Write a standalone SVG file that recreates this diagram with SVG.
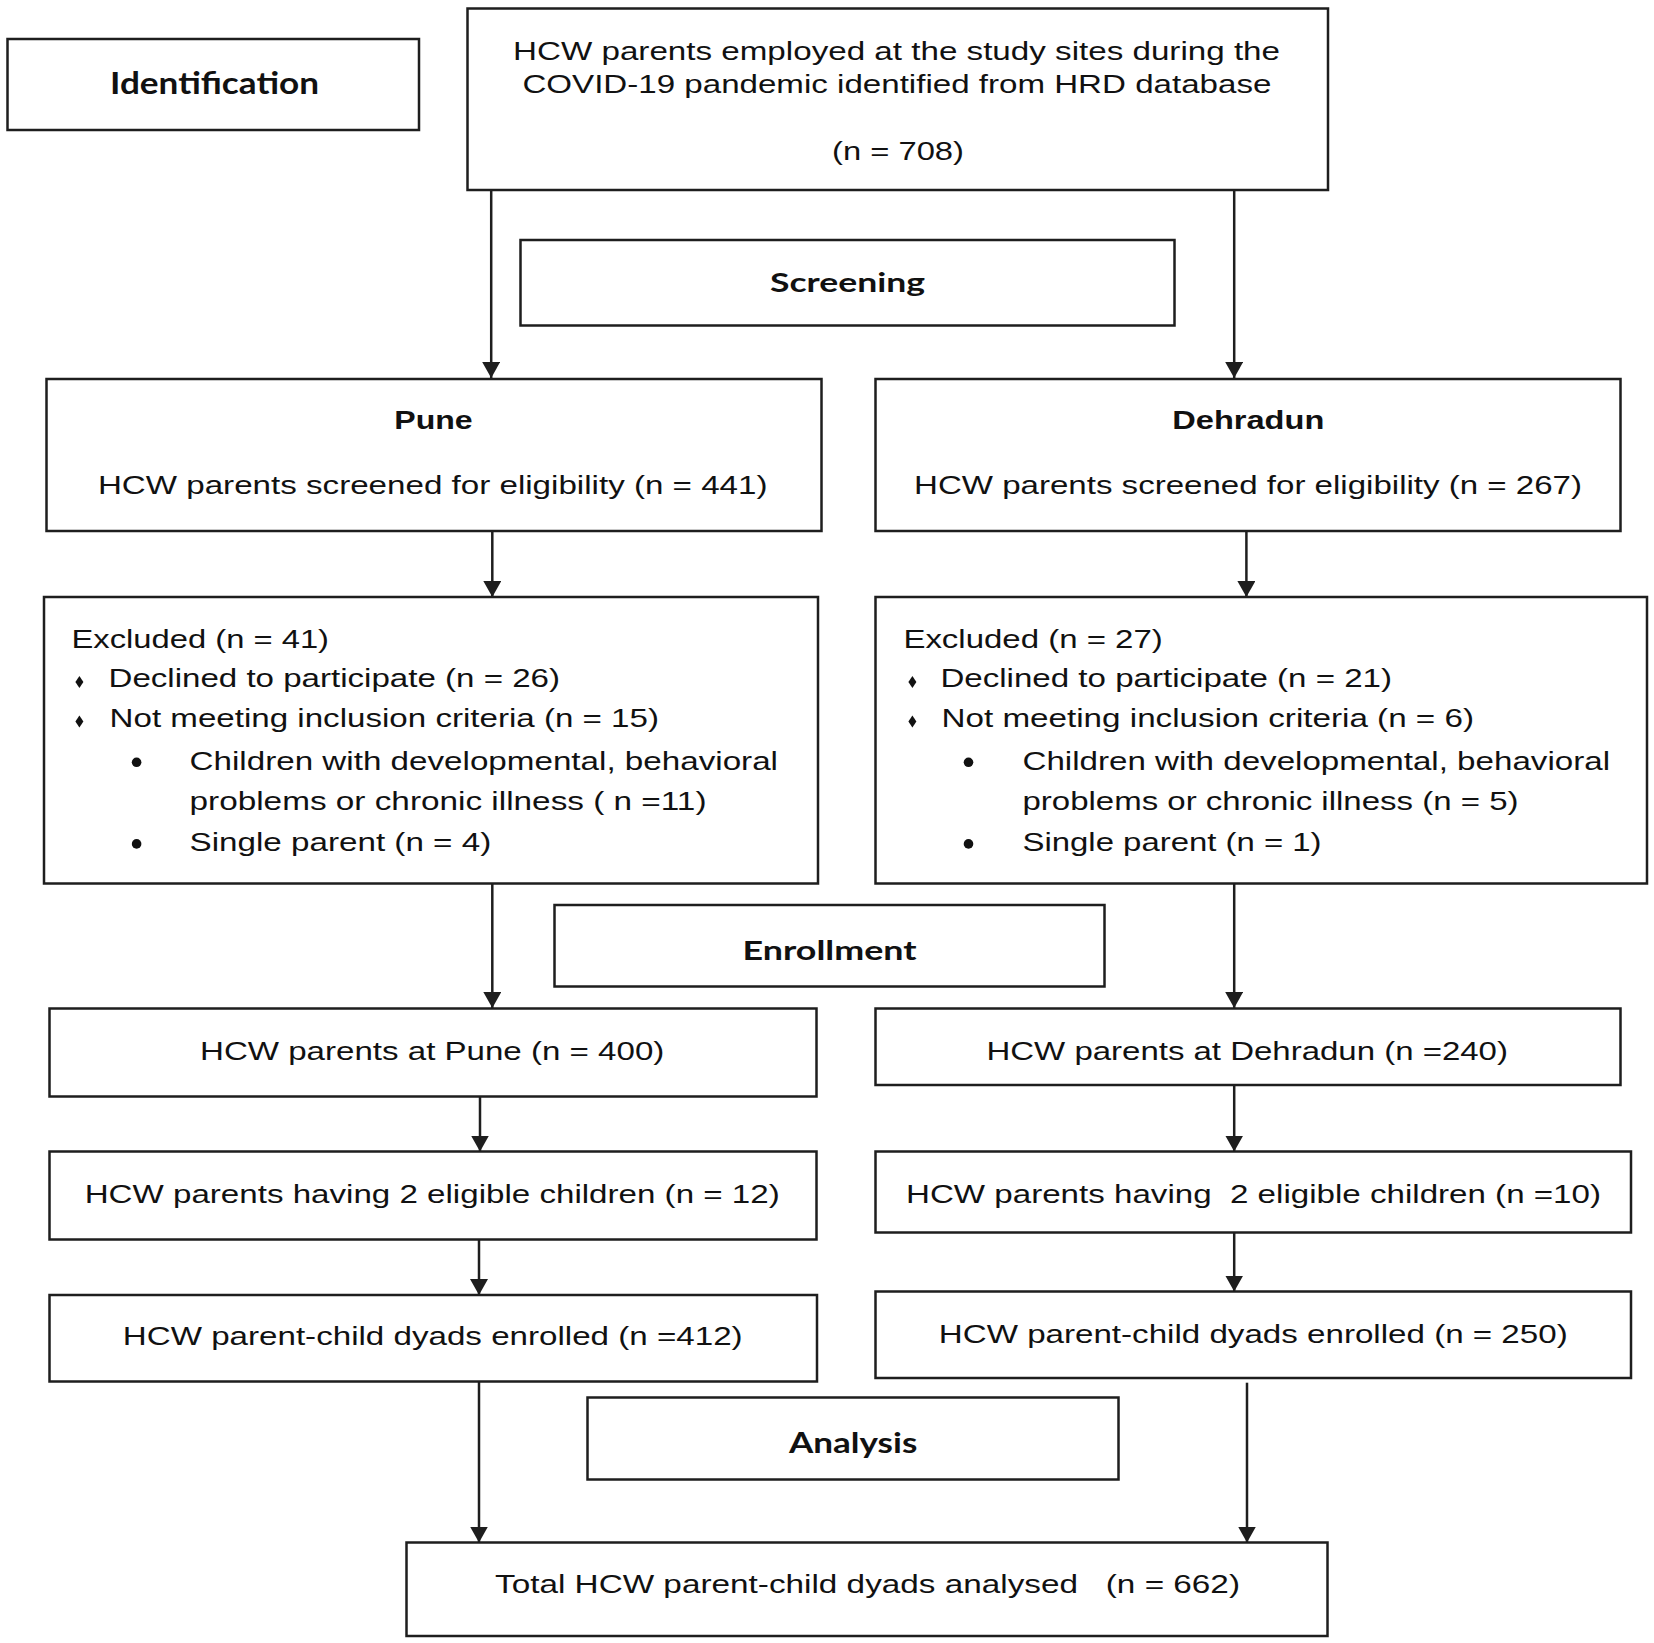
<svg xmlns="http://www.w3.org/2000/svg" width="1654" height="1643" viewBox="0 0 1654 1643">
<style>
.box{fill:#fff;stroke:#1e1e1e;stroke-width:2.5}
.t{font-family:"Liberation Sans",Arial,sans-serif;font-size:26px;fill:#111}
.tb{font-family:"Liberation Sans",Arial,sans-serif;font-size:26px;font-weight:bold;fill:#111}
.h{font-family:Lato,"Open Sans",sans-serif;font-weight:bold;fill:#111}
.c{stroke:#1e1e1e;stroke-width:2.5;fill:none}
.bul{fill:#111}
</style>
<defs>
<marker id="ah" markerUnits="userSpaceOnUse" markerWidth="17" markerHeight="18" refX="16" refY="9" orient="auto">
<path d="M0,0 L16,9 L0,18 Z" fill="#1e1e1e"/>
</marker>
</defs>
<rect width="1654" height="1643" fill="#fff"/>
<g id="connectors">
<line class="c" x1="491.2" y1="190" x2="491.2" y2="378" marker-end="url(#ah)"/>
<line class="c" x1="1234.2" y1="190" x2="1234.2" y2="378" marker-end="url(#ah)"/>
<line class="c" x1="492.3" y1="531" x2="492.3" y2="597" marker-end="url(#ah)"/>
<line class="c" x1="1246.4" y1="531" x2="1246.4" y2="597" marker-end="url(#ah)"/>
<line class="c" x1="492.3" y1="883.5" x2="492.3" y2="1008" marker-end="url(#ah)"/>
<line class="c" x1="1234.2" y1="883.5" x2="1234.2" y2="1008" marker-end="url(#ah)"/>
<line class="c" x1="480" y1="1096.7" x2="480" y2="1151.5" marker-end="url(#ah)"/>
<line class="c" x1="1234.2" y1="1085" x2="1234.2" y2="1151.5" marker-end="url(#ah)"/>
<line class="c" x1="479" y1="1239.5" x2="479" y2="1295" marker-end="url(#ah)"/>
<line class="c" x1="1234.2" y1="1232.7" x2="1234.2" y2="1291.5" marker-end="url(#ah)"/>
<line class="c" x1="479" y1="1381.7" x2="479" y2="1542.5" marker-end="url(#ah)"/>
<line class="c" x1="1247" y1="1382.7" x2="1247" y2="1542.5" marker-end="url(#ah)"/>
</g>
<g id="identification">
<rect class="box" x="7.5" y="39" width="411.5" height="91"/>
<text class="h" x="110" y="94" font-size="30" textLength="209" lengthAdjust="spacingAndGlyphs">Identification</text>
</g>
<g id="top">
<rect class="box" x="467.5" y="8.5" width="860.5" height="181.5"/>
<text class="t" x="513" y="60" textLength="767" lengthAdjust="spacingAndGlyphs">HCW parents employed at the study sites during the</text>
<text class="t" x="522.4" y="93" textLength="749" lengthAdjust="spacingAndGlyphs">COVID-19 pandemic identified from HRD database</text>
<text class="t" x="832" y="160" textLength="132" lengthAdjust="spacingAndGlyphs">(n = 708)</text>
</g>
<g id="screening">
<rect class="box" x="520.5" y="240" width="654" height="85.5"/>
<text class="h" x="770" y="292" font-size="27" textLength="155" lengthAdjust="spacingAndGlyphs">Screening</text>
</g>
<g id="pune">
<rect class="box" x="46.5" y="379" width="775" height="152"/>
<text class="tb" x="394.3" y="429" textLength="78.4" lengthAdjust="spacingAndGlyphs">Pune</text>
<text class="t" x="97.9" y="494.3" textLength="669.6" lengthAdjust="spacingAndGlyphs">HCW parents screened for eligibility (n = 441)</text>
</g>
<g id="dehradun">
<rect class="box" x="875.5" y="379" width="745" height="152"/>
<text class="tb" x="1172.3" y="429" textLength="152" lengthAdjust="spacingAndGlyphs">Dehradun</text>
<text class="t" x="914" y="494.3" textLength="668" lengthAdjust="spacingAndGlyphs">HCW parents screened for eligibility (n = 267)</text>
</g>
<g id="pune-excluded">
<rect class="box" x="44" y="597" width="774" height="286.5"/>
<text class="t" x="71.5" y="647.6" textLength="257.5" lengthAdjust="spacingAndGlyphs">Excluded (n = 41)</text>
<polygon class="bul" points="79.4,676 83.4,682 79.4,688 75.4,682"/>
<text class="t" x="108.5" y="687.2" textLength="451.5" lengthAdjust="spacingAndGlyphs">Declined to participate (n = 26)</text>
<polygon class="bul" points="79.4,715.6 83.4,721.6 79.4,727.6 75.4,721.6"/>
<text class="t" x="109.6" y="726.8" textLength="549.4" lengthAdjust="spacingAndGlyphs">Not meeting inclusion criteria (n = 15)</text>
<circle class="bul" cx="136.6" cy="762.3" r="4.8"/>
<text class="t" x="189.5" y="769.8" textLength="588.5" lengthAdjust="spacingAndGlyphs">Children with developmental, behavioral</text>
<text class="t" x="189.5" y="809.5" textLength="517" lengthAdjust="spacingAndGlyphs">problems or chronic illness ( n =11)</text>
<circle class="bul" cx="136.6" cy="843.9" r="4.8"/>
<text class="t" x="189.5" y="850.8" textLength="301.7" lengthAdjust="spacingAndGlyphs">Single parent (n = 4)</text>
</g>
<g id="dehradun-excluded">
<rect class="box" x="875.5" y="597" width="771.5" height="286.5"/>
<text class="t" x="903.4" y="647.6" textLength="259.4" lengthAdjust="spacingAndGlyphs">Excluded (n = 27)</text>
<polygon class="bul" points="912.4,676 916.4,682 912.4,688 908.4,682"/>
<text class="t" x="940.4" y="687.2" textLength="451.6" lengthAdjust="spacingAndGlyphs">Declined to participate (n = 21)</text>
<polygon class="bul" points="912.4,715.6 916.4,721.6 912.4,727.6 908.4,721.6"/>
<text class="t" x="941.5" y="726.8" textLength="532.5" lengthAdjust="spacingAndGlyphs">Not meeting inclusion criteria (n = 6)</text>
<circle class="bul" cx="968.5" cy="762.3" r="4.8"/>
<text class="t" x="1022.5" y="769.8" textLength="587.5" lengthAdjust="spacingAndGlyphs">Children with developmental, behavioral</text>
<text class="t" x="1022.5" y="809.5" textLength="496" lengthAdjust="spacingAndGlyphs">problems or chronic illness (n = 5)</text>
<circle class="bul" cx="968.5" cy="843.9" r="4.8"/>
<text class="t" x="1022.5" y="850.8" textLength="299" lengthAdjust="spacingAndGlyphs">Single parent (n = 1)</text>
</g>
<g id="enrollment">
<rect class="box" x="554.5" y="905" width="550" height="81.5"/>
<text class="h" x="742.6" y="960" font-size="27" textLength="174" lengthAdjust="spacingAndGlyphs">Enrollment</text>
</g>
<g id="pune-at">
<rect class="box" x="49.5" y="1008.5" width="767" height="88"/>
<text class="t" x="200" y="1060" textLength="464.3" lengthAdjust="spacingAndGlyphs">HCW parents at Pune (n = 400)</text>
</g>
<g id="dehradun-at">
<rect class="box" x="875.5" y="1008.5" width="745" height="76.5"/>
<text class="t" x="986.5" y="1060" textLength="521.4" lengthAdjust="spacingAndGlyphs">HCW parents at Dehradun (n =240)</text>
</g>
<g id="pune-having">
<rect class="box" x="49.5" y="1151.5" width="767" height="88"/>
<text class="t" x="84.7" y="1203.3" textLength="695" lengthAdjust="spacingAndGlyphs">HCW parents having 2 eligible children (n = 12)</text>
</g>
<g id="dehradun-having">
<rect class="box" x="875.5" y="1151.5" width="755.5" height="81"/>
<text class="t" x="906" y="1203.3" xml:space="preserve" textLength="695" lengthAdjust="spacingAndGlyphs">HCW parents having  2 eligible children (n =10)</text>
</g>
<g id="pune-dyads">
<rect class="box" x="49.5" y="1295" width="767.5" height="86.5"/>
<text class="t" x="122.8" y="1345" textLength="619.8" lengthAdjust="spacingAndGlyphs">HCW parent-child dyads enrolled (n =412)</text>
</g>
<g id="dehradun-dyads">
<rect class="box" x="875.5" y="1291.5" width="755.5" height="86.5"/>
<text class="t" x="938.8" y="1343.3" textLength="628.9" lengthAdjust="spacingAndGlyphs">HCW parent-child dyads enrolled (n = 250)</text>
</g>
<g id="analysis">
<rect class="box" x="587.5" y="1397.5" width="531" height="82"/>
<text class="h" x="789" y="1453.3" font-size="29" textLength="128.3" lengthAdjust="spacingAndGlyphs">Analysis</text>
</g>
<g id="total">
<rect class="box" x="406.5" y="1542.5" width="921" height="93.5"/>
<text class="t" x="495" y="1593.3" xml:space="preserve" textLength="745" lengthAdjust="spacingAndGlyphs">Total HCW parent-child dyads analysed   (n = 662)</text>
</g>
</svg>
